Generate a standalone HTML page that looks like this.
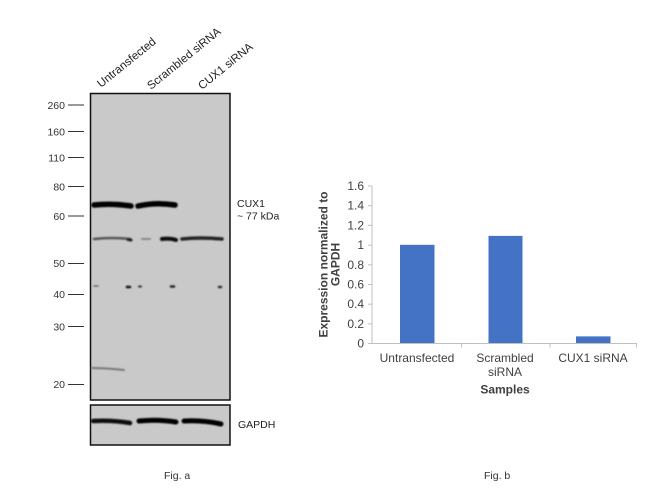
<!DOCTYPE html>
<html><head><meta charset="utf-8"><style>
html,body{margin:0;padding:0;background:#fff;}
svg{display:block;}
text{font-family:"Liberation Sans",Arial,sans-serif;}
</style></head><body>
<svg width="650" height="488" viewBox="0 0 650 488" xmlns="http://www.w3.org/2000/svg">
<defs>
<filter id="b1" x="-10%" y="-100%" width="120%" height="300%"><feGaussianBlur stdDeviation="0.7"/></filter>
</defs>
<rect width="650" height="488" fill="#fff"/>
<!-- column labels -->
<g fill="#222" font-size="11.5">
<text transform="translate(101,88) rotate(-39)">Untransfected</text>
<text transform="translate(151,90) rotate(-39)">Scrambled siRNA</text>
<text transform="translate(202,90) rotate(-39)">CUX1 siRNA</text>
</g>
<!-- blot -->
<rect x="90.5" y="93.5" width="139.5" height="306.5" fill="#c9c9c9" stroke="#111" stroke-width="1.5"/>
<rect x="90.5" y="405" width="139.5" height="40" fill="#c9c9c9" stroke="#111" stroke-width="1.5"/>
<!-- markers -->
<g fill="#333" font-size="10.5" text-anchor="end">
<text x="65" y="109">260</text>
<text x="65" y="135.5">160</text>
<text x="65" y="161.5">110</text>
<text x="65" y="190.5">80</text>
<text x="65" y="220">60</text>
<text x="65" y="267">50</text>
<text x="65" y="298">40</text>
<text x="65" y="330.5">30</text>
<text x="65" y="388">20</text>
</g>
<g stroke="#333" stroke-width="1">
<line x1="68" y1="105" x2="84" y2="105"/>
<line x1="68" y1="131.5" x2="84" y2="131.5"/>
<line x1="68" y1="157.5" x2="84" y2="157.5"/>
<line x1="68" y1="186.5" x2="84" y2="186.5"/>
<line x1="68" y1="216" x2="84" y2="216"/>
<line x1="68" y1="263.5" x2="84" y2="263.5"/>
<line x1="68" y1="294.5" x2="84" y2="294.5"/>
<line x1="68" y1="326.5" x2="84" y2="326.5"/>
<line x1="68" y1="384.5" x2="84" y2="384.5"/>
</g>
<!-- bands -->
<g filter="url(#b1)" fill="none" stroke-linecap="round">
<path d="M94,205 Q112,203 131,206" stroke="#050505" stroke-width="5.5"/>
<path d="M138,206 Q156,202 175,205" stroke="#050505" stroke-width="5.5"/>
<path d="M94,239 Q112,237 130,239" stroke="#555" stroke-width="2.5"/>
<path d="M128,239.5 L131,240" stroke="#222" stroke-width="3"/>
<path d="M142,239 L150,239" stroke="#888" stroke-width="2"/>
<path d="M162,239 Q170,238 176,240" stroke="#111" stroke-width="4"/>
<path d="M182,239 Q200,237 222,239" stroke="#222" stroke-width="3.5"/>
<path d="M94,286 L98,286" stroke="#666" stroke-width="1.5"/>
<path d="M127,287 L130,287" stroke="#111" stroke-width="2.5"/>
<path d="M139,286.5 L141,286.5" stroke="#333" stroke-width="2"/>
<path d="M171,286.5 L174,286.5" stroke="#222" stroke-width="2.5"/>
<path d="M219,287 L221,287" stroke="#333" stroke-width="2.5"/>
<path d="M92,368 Q105,368 124,370" stroke="#777" stroke-width="2"/>
<path d="M93,421 Q112,420 130,423" stroke="#111" stroke-width="4.5"/>
<path d="M139,421 Q158,419 176,422" stroke="#050505" stroke-width="5"/>
<path d="M184,421 Q203,420 221,424" stroke="#050505" stroke-width="5"/>
</g>
<g fill="#222" font-size="10.5">
<text x="237" y="207">CUX1</text>
<text x="237" y="219.5">~ 77 kDa</text>
<text x="238" y="428">GAPDH</text>
</g>
<!-- chart b -->
<g fill="#4472c4">
<rect x="400" y="244.8" width="34.5" height="98.5"/>
<rect x="488.5" y="235.9" width="34" height="107.4"/>
<rect x="576" y="336.4" width="34.5" height="6.9"/>
</g>
<g stroke="#bfbfbf" stroke-width="1">
<line x1="372" y1="186" x2="372" y2="343.5"/>
<line x1="368" y1="186" x2="372" y2="186"/>
<line x1="368" y1="205.7" x2="372" y2="205.7"/>
<line x1="368" y1="225.4" x2="372" y2="225.4"/>
<line x1="368" y1="245.1" x2="372" y2="245.1"/>
<line x1="368" y1="264.8" x2="372" y2="264.8"/>
<line x1="368" y1="284.5" x2="372" y2="284.5"/>
<line x1="368" y1="304.2" x2="372" y2="304.2"/>
<line x1="368" y1="323.9" x2="372" y2="323.9"/>
<line x1="368" y1="343.5" x2="637" y2="343.5"/>
<line x1="461.5" y1="343.5" x2="461.5" y2="347.5"/>
<line x1="550" y1="343.5" x2="550" y2="347.5"/>
<line x1="636.5" y1="343.5" x2="636.5" y2="347.5"/>
</g>
<g fill="#404040" font-size="12" text-anchor="end">
<text x="364" y="190">1.6</text>
<text x="364" y="209.7">1.4</text>
<text x="364" y="229.4">1.2</text>
<text x="364" y="249.1">1</text>
<text x="364" y="268.8">0.8</text>
<text x="364" y="288.5">0.6</text>
<text x="364" y="308.2">0.4</text>
<text x="364" y="327.9">0.2</text>
<text x="364" y="347.5">0</text>
</g>
<g fill="#404040" font-size="12" text-anchor="middle">
<text x="417" y="362">Untransfected</text>
<text x="505" y="362">Scrambled</text>
<text x="505" y="376">siRNA</text>
<text x="593" y="362">CUX1 siRNA</text>
<text x="505" y="393.5" font-weight="bold">Samples</text>
<text transform="translate(327.5,264.5) rotate(-90)" font-weight="bold">Expression normalized to</text>
<text transform="translate(339.5,264.5) rotate(-90)" font-weight="bold">GAPDH</text>
</g>
<g fill="#333" font-size="10.5">
<text x="164" y="479">Fig. a</text>
<text x="484" y="479">Fig. b</text>
</g>
</svg>
</body></html>
